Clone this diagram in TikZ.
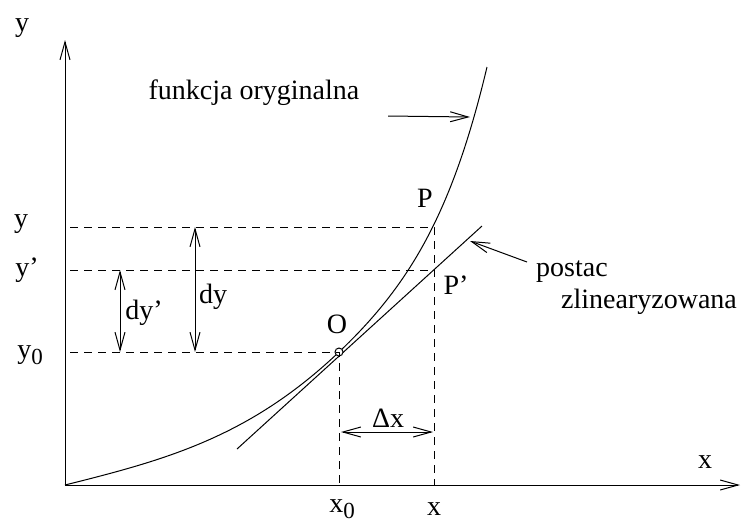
\documentclass[tikz,border=0pt]{standalone}
\usepackage{fontspec}
\setmainfont{Liberation Serif}
\usetikzlibrary{arrows.meta}
\newcommand{\subzero}{\raisebox{-0.45ex}{\fontsize{11.5}{12}\selectfont 0}}
\begin{document}
\begin{tikzpicture}[x=0.5pt,y=-0.5pt,line width=0.5pt,
        font=\fontsize{14}{16}\selectfont,
        barb/.tip={Straight Barb[length=9pt,width=5pt]},
        guide/.style={dashed,dash pattern=on 4pt off 3pt},
        dimline/.style={barb-barb}]
        \useasboundingbox (0,0) rectangle (743,521);
        % Coordinates
        \coordinate (Orig) at (65,485);
        \coordinate (Ytop) at (65,40);
        \coordinate (Xend) at (740,485);
        \coordinate (O) at (339,352);
        \coordinate (P) at (434,227);
        \coordinate (Pp) at (434,270);
        \coordinate (Ctop) at (487,67);
        \coordinate (Ta) at (237,449);
        \coordinate (Tb) at (482,226);
        \coordinate (Ly) at (70,227);
        \coordinate (Lyp) at (70,270);
        \coordinate (Lyo) at (70,352);
        \coordinate (Bx) at (434,485);
        \coordinate (Bxo) at (339,485);
        \coordinate (Fa) at (388,116);
        \coordinate (Fb) at (470,117);
        \coordinate (Za) at (527,262);
        \coordinate (Zb) at (470,241);

        % Axes
        \draw[-barb] (Orig) -- (Ytop);
        \draw[-barb] (Orig) -- (Xend);
        \node (ylab) at (22,28) {y};
        \node (xlab) at (705,462) {x};

        % Curve and tangent
        \draw (Orig) .. controls (165,460) and (249,437.5) .. (O)
                .. controls (409,285.5) and (452,214) .. (Ctop);
        \draw (Ta) -- (Tb);
        \draw[fill=white] (O) circle (2pt);

        % Guide lines
        \draw[guide] (Ly) -- (P) -- (Bx);
        \draw[guide] (Lyp) -- (Pp);
        \draw[guide] (Lyo) -- (O) -- (Bxo);

        % Increments
        \draw[dimline] (195,227) -- (195,352);
        \draw[dimline] (120,270) -- (120,352);
        \draw[dimline] (341,432) -- (433,432);
        \node (dy) at (213,297) {dy};
        \node (dyp) at (144,313) {dy’};
        \node (dx) at (388,418) {Δx};

        % Labels
        \node (yv) at (21,224) {y};
        \node (ypv) at (27,270) {y’};
        \node (yov) at (30,355) {y\subzero};
        \node (xov) at (342,509) {x\subzero};
        \node (xv) at (434,509) {x};
        \node (Plab) at (425,198) {P};
        \node (Pplab) at (456,285) {P’};
        \node (Olab) at (337,324) {O};
        \node (orig) at (254,93) {funkcja oryginalna};
        \node (lin1) at (572,272) {postac};
        \node (lin2) at (649,302) {zlinearyzowana};
        \draw[-barb] (Fa) -- (Fb);
        \draw[-barb] (Za) -- (Zb);
        \end{tikzpicture}
\end{document}
